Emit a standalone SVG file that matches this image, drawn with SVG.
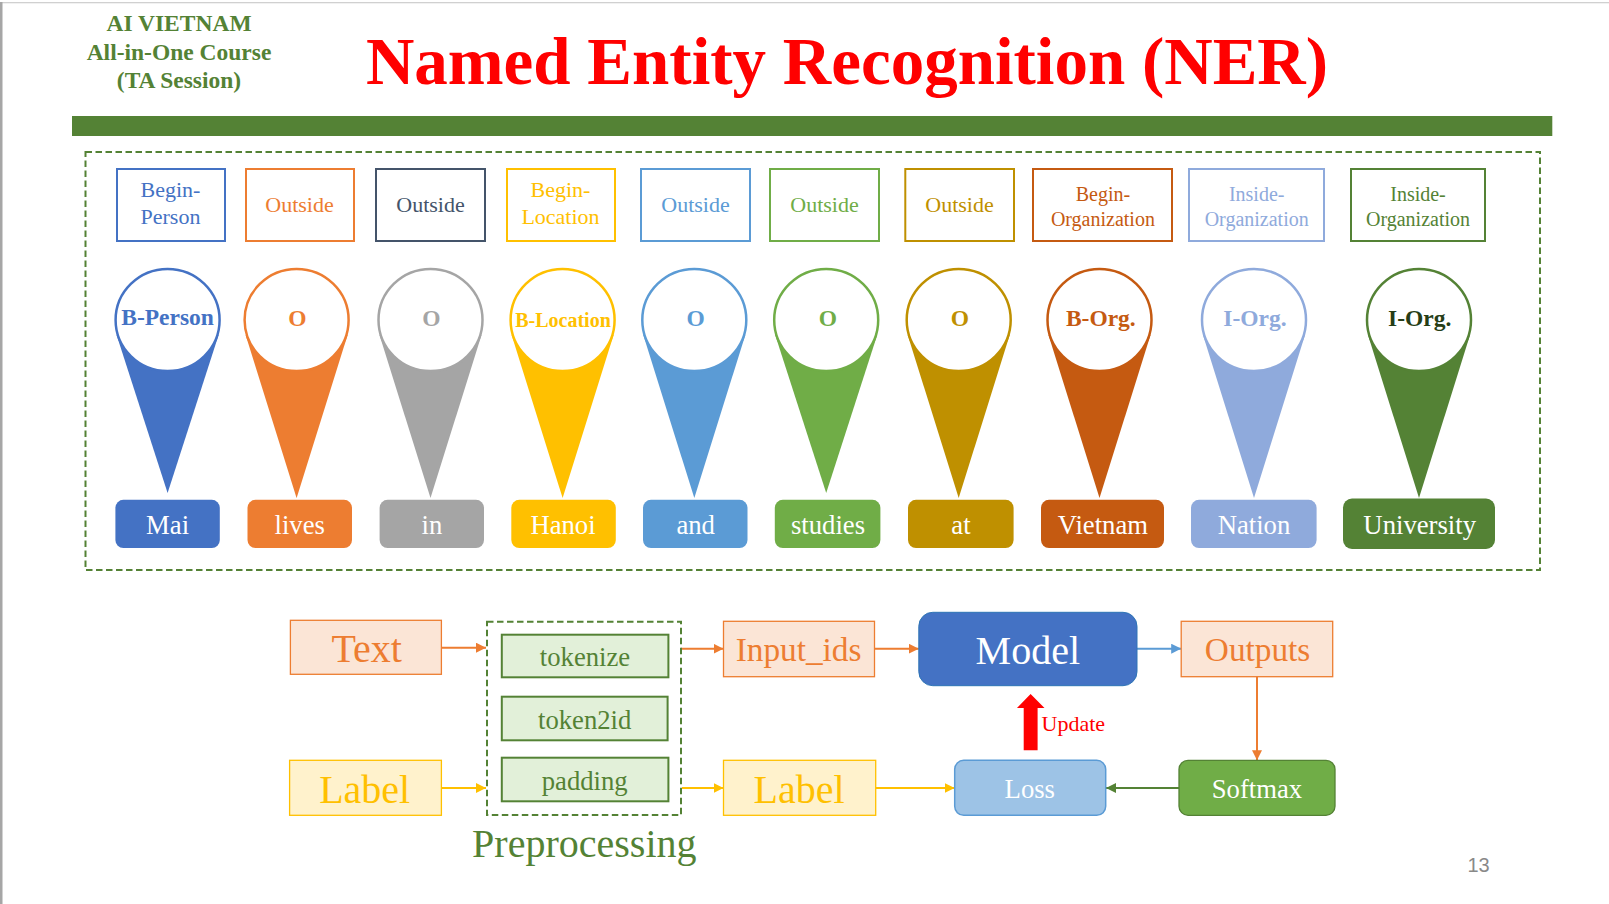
<svg xmlns="http://www.w3.org/2000/svg" width="1609" height="904" viewBox="0 0 1609 904">
<defs>
<marker id="aO" markerWidth="10" markerHeight="10" refX="10" refY="5" orient="auto" markerUnits="userSpaceOnUse"><path d="M0 0L10 5L0 10Z" fill="#ED7D31"/></marker>
<marker id="aY" markerWidth="10" markerHeight="10" refX="10" refY="5" orient="auto" markerUnits="userSpaceOnUse"><path d="M0 0L10 5L0 10Z" fill="#FFC000"/></marker>
<marker id="aB" markerWidth="10" markerHeight="10" refX="10" refY="5" orient="auto" markerUnits="userSpaceOnUse"><path d="M0 0L10 5L0 10Z" fill="#5B9BD5"/></marker>
<marker id="aG" markerWidth="10" markerHeight="10" refX="10" refY="5" orient="auto" markerUnits="userSpaceOnUse"><path d="M0 0L10 5L0 10Z" fill="#548235"/></marker>
</defs>
<style>
text{font-family:"Liberation Serif",serif;text-anchor:middle}
.b{font-weight:bold}
.t{font-size:22px}.s{font-size:20px}
.p{font-size:23.5px;font-weight:bold}
.w{font-size:26.7px;fill:#fff}
.big{font-size:40px}.mid{font-size:33.3px}
.tag{fill:#fff;stroke-width:2}
.c{fill:#fff;stroke-width:2.5}
.dash{fill:none;stroke:#548235;stroke-width:2;stroke-dasharray:6.5 3.5}
.or{fill:#FBE5D6;stroke:#ED7D31;stroke-width:1.3}
.ye{fill:#FFF2CC;stroke:#FFC000;stroke-width:1.3}
.gr{fill:#E2F0D9;stroke:#548235;stroke-width:2}
.l{fill:none;stroke-width:2}
.fo{fill:#ED7D31}.fy{fill:#FFC000}.fg{fill:#548235}
</style>
<rect width="1609" height="904" fill="#fff"/>
<rect x="0" y="2" width="1609" height="1.3" fill="#d0d0d0"/>
<rect x="0" y="2" width="2.5" height="902" fill="#a6a6a6"/>
<g id="header">
<text class="b fg" x="179" y="31" font-size="23.5">AI VIETNAM</text>
<text class="b fg" x="179" y="59.5" font-size="23.5">All-in-One Course</text>
<text class="b fg" x="179" y="88" font-size="23.5">(TA Session)</text>
<text class="b" x="847" y="84" font-size="67" fill="#f00">Named Entity Recognition (NER)</text>
<rect x="72" y="116" width="1480.3" height="20" fill="#548235"/>
</g>
<rect id="ner-frame" class="dash" x="85.5" y="152" width="1454.5" height="418"/>
<g id="tags">
<g id="tag1"><rect class="tag" x="117" y="169" width="108" height="72" stroke="#4472C4"/><text class="t" fill="#4472C4"><tspan x="170.5" y="196.5">Begin-</tspan><tspan x="170.5" y="223.5">Person</tspan></text></g>
<g id="tag2"><rect class="tag" x="246" y="169" width="108" height="72" stroke="#ED7D31"/><text class="t fo" x="299.5" y="212">Outside</text></g>
<g id="tag3"><rect class="tag" x="376" y="169" width="109" height="72" stroke="#44546A"/><text class="t" x="430.5" y="212" fill="#44546A">Outside</text></g>
<g id="tag4"><rect class="tag" x="507" y="169" width="108" height="72" stroke="#FFC000"/><text class="t fy"><tspan x="560.5" y="196.5">Begin-</tspan><tspan x="560.5" y="223.5">Location</tspan></text></g>
<g id="tag5"><rect class="tag" x="641" y="169" width="109" height="72" stroke="#5B9BD5"/><text class="t" x="695.5" y="212" fill="#5B9BD5">Outside</text></g>
<g id="tag6"><rect class="tag" x="770" y="169" width="109" height="72" stroke="#70AD47"/><text class="t" x="824.5" y="212" fill="#70AD47">Outside</text></g>
<g id="tag7"><rect class="tag" x="905.3" y="169" width="108.7" height="72" stroke="#BF9000"/><text class="t" x="959.5" y="212" fill="#BF9000">Outside</text></g>
<g id="tag8"><rect class="tag" x="1033" y="169" width="139" height="72" stroke="#C55A11"/><text class="s" fill="#C55A11"><tspan x="1102.9" y="201">Begin-</tspan><tspan x="1102.9" y="225.5">Organization</tspan></text></g>
<g id="tag9"><rect class="tag" x="1189" y="169" width="135" height="72" stroke="#8FAADC"/><text class="s" fill="#8FAADC"><tspan x="1256.7" y="201">Inside-</tspan><tspan x="1256.7" y="225.5">Organization</tspan></text></g>
<g id="tag10"><rect class="tag" x="1351" y="169" width="134" height="72" stroke="#548235"/><text class="s fg"><tspan x="1418" y="201">Inside-</tspan><tspan x="1418" y="225.5">Organization</tspan></text></g>
</g>
<g id="pins">
<g id="pin1"><path d="M116.6 335L167.6 493L218.6 335Z" fill="#4472C4"/><ellipse class="c" cx="167.6" cy="320" rx="52" ry="51" stroke="#4472C4"/><text class="p" x="167.6" y="325" fill="#4472C4">B-Person</text></g>
<g id="pin2"><path d="M245.6 335L296.6 498L347.6 335Z" fill="#ED7D31"/><ellipse class="c" cx="296.6" cy="320" rx="52" ry="51" stroke="#ED7D31"/><text class="p fo" x="297.5" y="326">O</text></g>
<g id="pin3"><path d="M379.5 335L430.5 498L481.5 335Z" fill="#A5A5A5"/><ellipse class="c" cx="430.5" cy="320" rx="52" ry="51" stroke="#A5A5A5"/><text class="p" x="431.5" y="326" fill="#A5A5A5">O</text></g>
<g id="pin4"><path d="M511.6 335L562.6 498L613.6 335Z" fill="#FFC000"/><ellipse class="c" cx="562.6" cy="320" rx="52" ry="51" stroke="#FFC000"/><text class="b fy" x="563" y="326.5" font-size="20">B-Location</text></g>
<g id="pin5"><path d="M643.3 335L694.3 498L745.3 335Z" fill="#5B9BD5"/><ellipse class="c" cx="694.3" cy="320" rx="52" ry="51" stroke="#5B9BD5"/><text class="p" x="695.7" y="326" fill="#5B9BD5">O</text></g>
<g id="pin6"><path d="M775.2 335L826.2 493L877.2 335Z" fill="#70AD47"/><ellipse class="c" cx="826.2" cy="320" rx="52" ry="51" stroke="#70AD47"/><text class="p" x="828" y="326" fill="#70AD47">O</text></g>
<g id="pin7"><path d="M907.7 335L958.7 498L1009.7 335Z" fill="#BF9000"/><ellipse class="c" cx="958.7" cy="320" rx="52" ry="51" stroke="#BF9000"/><text class="p" x="960" y="326" fill="#BF9000">O</text></g>
<g id="pin8"><path d="M1048.5 335L1099.5 498L1150.5 335Z" fill="#C55A11"/><ellipse class="c" cx="1099.5" cy="320" rx="52" ry="51" stroke="#C55A11"/><text class="p" x="1100.8" y="326" fill="#C55A11">B-Org.</text></g>
<g id="pin9"><path d="M1203 335L1254 498L1305 335Z" fill="#8FAADC"/><ellipse class="c" cx="1254" cy="320" rx="52" ry="51" stroke="#8FAADC"/><text class="p" x="1255" y="326" fill="#8FAADC">I-Org.</text></g>
<g id="pin10"><path d="M1368 335L1419 498L1470 335Z" fill="#548235"/><ellipse class="c" cx="1419" cy="320" rx="52" ry="51" stroke="#548235"/><text class="p" x="1419.7" y="326" fill="#263D16">I-Org.</text></g>
</g>
<g id="words">
<g id="w1"><rect x="115.4" y="499.8" width="104.4" height="48.2" rx="8" fill="#4472C4"/><text class="w" x="167.6" y="534">Mai</text></g>
<g id="w2"><rect x="247.5" y="499.8" width="104.5" height="48.2" rx="8" fill="#ED7D31"/><text class="w" x="299.7" y="534">lives</text></g>
<g id="w3"><rect x="379.6" y="499.8" width="104.4" height="48.2" rx="8" fill="#A5A5A5"/><text class="w" x="431.9" y="534">in</text></g>
<g id="w4"><rect x="511.3" y="499.8" width="104.5" height="48.2" rx="8" fill="#FFC000"/><text class="w" x="563" y="534">Hanoi</text></g>
<g id="w5"><rect x="643" y="499.8" width="104.5" height="48.2" rx="8" fill="#5B9BD5"/><text class="w" x="695.7" y="534">and</text></g>
<g id="w6"><rect x="774.8" y="499.8" width="105.6" height="48.2" rx="8" fill="#70AD47"/><text class="w" x="828" y="534">studies</text></g>
<g id="w7"><rect x="908" y="499.8" width="105.6" height="48.2" rx="8" fill="#BF9000"/><text class="w" x="961" y="534">at</text></g>
<g id="w8"><rect x="1041" y="499.8" width="123" height="48.2" rx="8" fill="#C55A11"/><text class="w" x="1102.9" y="534">Vietnam</text></g>
<g id="w9"><rect x="1191" y="499.8" width="125.6" height="48.2" rx="8" fill="#8FAADC"/><text class="w" x="1254" y="534">Nation</text></g>
<g id="w10"><rect x="1343" y="498.5" width="152" height="50.5" rx="9" fill="#548235"/><text class="w" x="1419.7" y="534">University</text></g>
</g>
<g id="connectors">
<path class="l" d="M441.4 647.7H486" stroke="#ED7D31" marker-end="url(#aO)"/>
<path class="l" d="M681 648.7H723.5" stroke="#ED7D31" marker-end="url(#aO)"/>
<path class="l" d="M874.5 648.7H918.8" stroke="#ED7D31" marker-end="url(#aO)"/>
<path class="l" d="M1137 648.7H1181.2" stroke="#5B9BD5" marker-end="url(#aB)"/>
<path class="l" d="M1257 676.7V760.3" stroke="#ED7D31" marker-end="url(#aO)"/>
<path class="l" d="M441.4 788H486" stroke="#FFC000" marker-end="url(#aY)"/>
<path class="l" d="M682 788H723.5" stroke="#FFC000" marker-end="url(#aY)"/>
<path class="l" d="M875.7 788H954.7" stroke="#FFC000" marker-end="url(#aY)"/>
<path class="l" d="M1179 788H1106" stroke="#548235" marker-end="url(#aG)"/>
<path d="M1023.7 750.3V708H1017L1030.6 694L1044.5 708H1037.6V750.3Z" fill="#f00"/>
</g>
<g id="n-text"><rect class="or" x="290.4" y="620.3" width="151" height="54"/><text class="big fo" x="366.7" y="662">Text</text></g>
<g id="n-label1"><rect class="ye" x="289.6" y="760.3" width="151.8" height="55"/><text class="big fy" x="364.7" y="802.7">Label</text></g>
<g id="n-pre">
<rect class="dash" x="487" y="621.7" width="194" height="193.3"/>
<text class="big fg" x="584.3" y="857">Preprocessing</text>
</g>
<g id="n-tokenize"><rect class="gr" x="501.8" y="634.7" width="166.6" height="42.6"/><text class="w" style="fill:#548235" x="585" y="665.7">tokenize</text></g>
<g id="n-token2id"><rect class="gr" x="501.8" y="696.7" width="165.8" height="43.6"/><text class="w" style="fill:#548235" x="584.7" y="728.7">token2id</text></g>
<g id="n-padding"><rect class="gr" x="501.8" y="757.7" width="166.6" height="43.6"/><text class="w" style="fill:#548235" x="584.7" y="790">padding</text></g>
<g id="n-input"><rect class="or" x="723.5" y="621.3" width="151" height="55.4"/><text class="mid fo" x="798.6" y="661">Input_ids</text></g>
<g id="n-label2"><rect class="ye" x="723.5" y="760.3" width="152.2" height="55"/><text class="big fy" x="799" y="802.7">Label</text></g>
<g id="n-model"><rect x="918.8" y="612.3" width="218.2" height="73.4" rx="14" fill="#4472C4" stroke="#2E75B6" stroke-width="1"/><text class="big" x="1027.8" y="664.3" fill="#fff">Model</text></g>
<g id="n-outputs"><rect class="or" x="1181.2" y="621.3" width="151.5" height="55.4"/><text class="mid fo" x="1257.6" y="661">Outputs</text></g>
<g id="n-softmax"><rect x="1179" y="760.3" width="156" height="55" rx="9" fill="#70AD47" stroke="#548235" stroke-width="1.3"/><text class="w" x="1257" y="798.3">Softmax</text></g>
<g id="n-loss"><rect x="954.7" y="760.3" width="151" height="55" rx="9" fill="#9DC3E6" stroke="#5B9BD5" stroke-width="1.5"/><text class="w" x="1029.8" y="798.3">Loss</text></g>
<text x="1073.3" y="731" font-size="22" fill="#f00">Update</text>
<text x="1478.5" y="872" font-size="20" fill="#898989" style="font-family:'Liberation Sans',sans-serif">13</text>
</svg>
